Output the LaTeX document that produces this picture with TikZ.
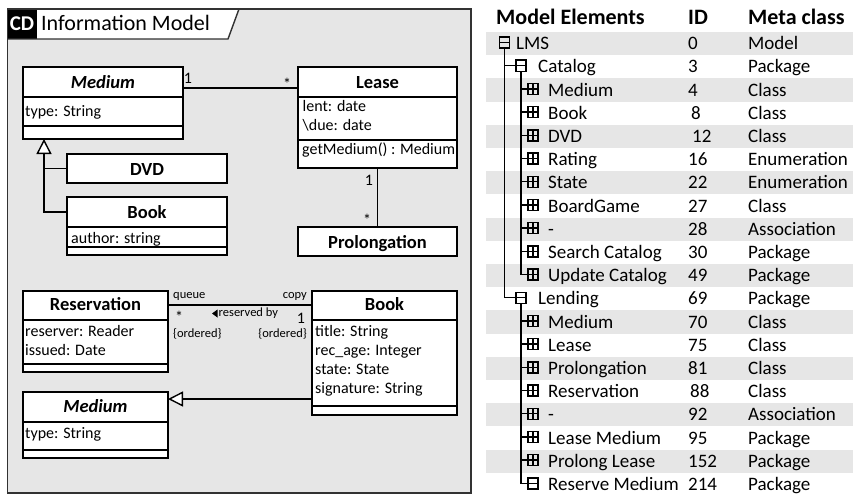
\documentclass[tikz,border=0pt]{standalone}
\usepackage{fontspec}
\setmainfont{Carlito}
\usetikzlibrary{arrows.meta,calc}
\definecolor{bggray}{RGB}{230,230,230}
\definecolor{framecol}{RGB}{50,50,50}
\newcommand{\treeicon}[3]{%
  \draw[treeline] (#1-5,#2-5.5) rectangle (#1+5,#2+5.5) (#1-5,#2) -- (#1+5,#2);
  \ifnum#3=1 \draw[treeline] (#1,#2-5.5) -- (#1,#2+5.5);\fi}
\newcommand{\tabrow}[8]{%
  \pgfmathsetmacro{\yc}{43.5+23.2*#1}
  \node[tbl] (rn#1) at (#4,\yc+6.2) {#5};
  \node[tbl] (ri#1) at (#6,\yc+6.2) {#7};
  \node[tbl] (rm#1) at (748,\yc+6.2) {#8};
  \treeicon{#2}{\yc-1}{#3}}
\begin{document}
\begin{tikzpicture}[x=1pt,y=-1pt,
  cls/.style={draw=black, line width=1.4pt, fill=white, inner sep=0pt, outer sep=0pt, anchor=north west},
  sep/.style={line width=1.4pt},
  nm/.style={font=\fontsize{18.5}{22}\selectfont\bfseries, inner sep=0pt, anchor=base},
  attr/.style={font=\fontsize{16}{19}\selectfont, inner sep=0pt, anchor=base west},
  mult/.style={font=\fontsize{16}{19}\selectfont, inner sep=0pt, anchor=base},
  sm/.style={font=\fontsize{12.5}{15}\selectfont, inner sep=0pt},
  assoc/.style={line width=1.4pt},
  gen/.style={line width=1.4pt, -{Triangle[length=15pt, width=15pt, fill=white, line width=1.4pt]}},
  treeline/.style={line width=1.4pt, black},
  tbl/.style={font=\fontsize{19}{23}\selectfont, inner sep=0pt, anchor=base west},
  hdr/.style={font=\fontsize{22}{26}\selectfont\bfseries, inner sep=0pt, anchor=base west}]
\useasboundingbox (0,0) rectangle (853,495);

% ---------- frame ----------
\node[fill=bggray, minimum width=463.5pt, minimum height=484pt, inner sep=0pt, outer sep=0pt, anchor=north west] (frame) at (7.5,9) {};
\fill[white] (7.5,9) -- (239,9) -- (228,39) -- (7.5,39) -- cycle;
\fill[black] (7.5,9) rectangle (37,39);
\draw[framecol, line width=1.4pt] (7.5,39) -- (228,39) -- (239,9);
\draw[framecol, line width=1.4pt] (frame.north west) rectangle (frame.south east);
\node[font=\fontsize{21}{24}\selectfont\bfseries, text=white, anchor=base, inner sep=0pt] (cd) at (22,31) {CD};
\node[font=\fontsize{22}{26}\selectfont, anchor=base west, inner sep=0pt] (title) at (41,31) {Information Model};

% ---------- classes (top) ----------
\node[cls, minimum width=160pt, minimum height=72pt] (mediumA) at (23,67) {};
\draw[sep] ([yshift=-30pt]mediumA.north west) -- ([yshift=-30pt]mediumA.north east);
\draw[sep] ([yshift=-59pt]mediumA.north west) -- ([yshift=-59pt]mediumA.north east);
\node[nm] (mediumAn) at (103,88) {\itshape Medium};
\node[attr] (mediumAa) at (25,116.5) {type: String};

\node[cls, minimum width=159pt, minimum height=101pt] (lease) at (298,67) {};
\draw[sep] ([yshift=-30pt]lease.north west) -- ([yshift=-30pt]lease.north east);
\draw[sep] ([yshift=-73pt]lease.north west) -- ([yshift=-73pt]lease.north east);
\node[nm] (leasen) at (377.5,88) {Lease};
\node[attr] (leasea1) at (302.5,111) {lent: date};
\node[attr] (leasea2) at (302.5,130) {\textbackslash due: date};
\node[attr] (leaseo) at (302,154) {getMedium() : Medium};

\node[cls, minimum width=160pt, minimum height=29pt] (dvd) at (67,154) {};
\node[nm] (dvdn) at (147,175) {DVD};

\node[cls, minimum width=160pt, minimum height=58pt] (bookA) at (67,197) {};
\draw[sep] ([yshift=-30pt]bookA.north west) -- ([yshift=-30pt]bookA.north east);
\draw[sep] ([yshift=-50pt]bookA.north west) -- ([yshift=-50pt]bookA.north east);
\node[nm] (bookAn) at (147,218) {Book};
\node[attr] (bookAa) at (71,243) {author: string};

\node[cls, minimum width=159pt, minimum height=29pt] (prolong) at (298,227) {};
\node[nm] (prolongn) at (377.5,248) {Prolongation};

% ---------- classes (bottom) ----------
\node[cls, minimum width=145pt, minimum height=81pt] (reserv) at (23,291) {};
\draw[sep] ([yshift=-29pt]reserv.north west) -- ([yshift=-29pt]reserv.north east);
\draw[sep] ([yshift=-73pt]reserv.north west) -- ([yshift=-73pt]reserv.north east);
\node[nm] (reservn) at (95.5,310.5) {Reservation};
\node[attr] (reserva1) at (25,336) {reserver: Reader};
\node[attr] (reserva2) at (25,355) {issued: Date};

\node[cls, minimum width=145pt, minimum height=124pt] (bookB) at (312,291) {};
\draw[sep] ([yshift=-29pt]bookB.north west) -- ([yshift=-29pt]bookB.north east);
\draw[sep] ([yshift=-115pt]bookB.north west) -- ([yshift=-115pt]bookB.north east);
\node[nm] (bookBn) at (384.5,310.5) {Book};
\node[attr] (bookBa1) at (315,336) {title: String};
\node[attr] (bookBa2) at (315,355) {rec\_age: Integer};
\node[attr] (bookBa3) at (315,374) {state: State};
\node[attr] (bookBa4) at (315,393) {signature: String};

\node[cls, minimum width=145pt, minimum height=66pt] (mediumB) at (23,392) {};
\draw[sep] ([yshift=-30pt]mediumB.north west) -- ([yshift=-30pt]mediumB.north east);
\draw[sep] ([yshift=-58pt]mediumB.north west) -- ([yshift=-58pt]mediumB.north east);
\node[nm] (mediumBn) at (95.5,412.5) {\itshape Medium};
\node[attr] (mediumBa) at (25,438) {type: String};

% ---------- connectors ----------
\draw[assoc] ([yshift=-21pt]mediumA.north east) -- ([yshift=-21pt]lease.north west);
\draw[assoc] (lease.south) -- (prolong.north);
\draw[assoc] ([yshift=-14pt]reserv.north east) -- ([yshift=-14pt]bookB.north west);
\draw[gen] ([yshift=-108pt]bookB.north west) -- ([yshift=-7pt]mediumB.north east);
\coordinate (gA) at ([xshift=21pt]mediumA.south west);
\draw[gen] ([yshift=-15pt]bookA.north west) -| (gA);
\draw[assoc] (dvd.west) -- (dvd.west -| gA);

% ---------- labels ----------
\node[mult] (m1) at (188,83) {1};
\node[mult] (m2) at (287,89) {*};
\node[mult] (m3) at (369,185) {1};
\node[mult] (m4) at (367,225) {*};
\node[sm, anchor=base west] (queue) at (173,298) {queue};
\node[sm, anchor=base east] (copy) at (307,298) {copy};
\node[mult] (m5) at (179,322) {*};
\fill (212,313.5) -- (217.5,309.5) -- (217.5,317.5) -- cycle;
\node[sm, anchor=base west] (resby) at (218.5,316.5) {reserved by};
\node[mult] (m6) at (301,323) {1};
\node[sm, anchor=base west] (ord1) at (173,337) {\{ordered\}};
\node[sm, anchor=base east] (ord2) at (307,337) {\{ordered\}};

% ---------- table ----------
\foreach \i in {0,2,...,18}
  \fill[bggray] (486,43.5+23.2*\i-11.6) rectangle (853,43.5+23.2*\i+11.6);
\node[hdr] (hme) at (496,25) {Model Elements};
\node[hdr] (hid) at (688,25) {ID};
\node[hdr] (hmc) at (748,25) {Meta class};

\tabrow{0}{504.5}{0}{516}{LMS}{688}{0}{Model}
\tabrow{1}{521}{0}{538}{Catalog}{688}{3}{Package}
\tabrow{2}{533}{1}{548}{Medium}{688}{4}{Class}
\tabrow{3}{533}{1}{548}{Book}{691}{8}{Class}
\tabrow{4}{533}{1}{548}{DVD}{692}{12}{Class}
\tabrow{5}{533}{1}{548}{Rating}{688}{16}{Enumeration}
\tabrow{6}{533}{1}{548}{State}{688}{22}{Enumeration}
\tabrow{7}{533}{1}{548}{BoardGame}{688}{27}{Class}
\tabrow{8}{533}{1}{548}{-}{688}{28}{Association}
\tabrow{9}{533}{1}{548}{Search Catalog}{688}{30}{Package}
\tabrow{10}{533}{1}{548}{Update Catalog}{688}{49}{Package}
\tabrow{11}{521}{0}{538}{Lending}{688}{69}{Package}
\tabrow{12}{533}{1}{548}{Medium}{688}{70}{Class}
\tabrow{13}{533}{1}{548}{Lease}{688}{75}{Class}
\tabrow{14}{533}{1}{548}{Prolongation}{688}{81}{Class}
\tabrow{15}{533}{1}{548}{Reservation}{690}{88}{Class}
\tabrow{16}{533}{1}{548}{-}{688}{92}{Association}
\tabrow{17}{533}{1}{548}{Lease Medium}{688}{95}{Package}
\tabrow{18}{533}{1}{548}{Prolong Lease}{688}{152}{Package}
\tabrow{19}{533}{0}{548}{Reserve Medium}{688}{214}{Package}

% tree lines
\draw[treeline] (504.5,43.5-1+5.5) |- (516,43.5+23.2*11-1);
\draw[treeline] (504.5,43.5+23.2-1) -- (516,43.5+23.2-1);
\draw[treeline] (521,43.5+23.2-1+5.5) |- (528,43.5+23.2*10-1);
\foreach \i in {2,...,9}
  \draw[treeline] (521,43.5+23.2*\i-1) -- (528,43.5+23.2*\i-1);
\draw[treeline] (521,43.5+23.2*11-1+5.5) |- (528,43.5+23.2*19-1);
\foreach \i in {12,...,18}
  \draw[treeline] (521,43.5+23.2*\i-1) -- (528,43.5+23.2*\i-1);
\end{tikzpicture}
\end{document}
